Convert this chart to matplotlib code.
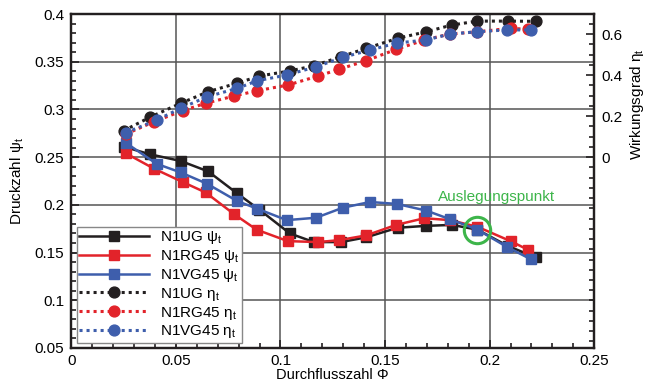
import numpy as np
import matplotlib
matplotlib.use('Agg')
import matplotlib.pyplot as plt
from matplotlib.ticker import MultipleLocator, FixedLocator

plt.rcParams['font.family'] = ['Liberation Sans', 'DejaVu Sans']
plt.rcParams['mathtext.default'] = 'regular'

# Durchflusszahl per series
phi_ug = [0.025, 0.0376, 0.0523, 0.0655, 0.0793, 0.0899, 0.1045, 0.116, 0.129, 0.141, 0.156, 0.1697, 0.182, 0.1942, 0.2086, 0.222]
phi_rg = [0.0261, 0.0395, 0.0532, 0.0642, 0.0780, 0.0886, 0.1035, 0.118, 0.128, 0.141, 0.1553, 0.1688, 0.181, 0.1942, 0.2100, 0.2183]
phi_vg = [0.0261, 0.0408, 0.0523, 0.065, 0.0793, 0.0889, 0.103, 0.117, 0.1298, 0.1428, 0.1556, 0.1697, 0.181, 0.1942, 0.2082, 0.2197]

# Druckzahl psi_t
psi_ug = [0.261, 0.253, 0.246, 0.235, 0.212, 0.195, 0.170, 0.161, 0.161, 0.166, 0.176, 0.178, 0.179, 0.174, 0.157, 0.145]
psi_rg = [0.254, 0.238, 0.224, 0.213, 0.190, 0.174, 0.162, 0.161, 0.163, 0.168, 0.179, 0.186, 0.184, 0.177, 0.162, 0.153]
psi_vg = [0.265, 0.243, 0.234, 0.222, 0.204, 0.196, 0.184, 0.1865, 0.197, 0.203, 0.201, 0.194, 0.185, 0.174, 0.156, 0.143]

# Wirkungsgrad eta_t
eta_ug = [0.128, 0.194, 0.262, 0.319, 0.360, 0.395, 0.420, 0.445, 0.490, 0.530, 0.579, 0.611, 0.644, 0.663, 0.663, 0.662]
eta_rg = [0.112, 0.172, 0.226, 0.262, 0.298, 0.323, 0.351, 0.395, 0.428, 0.470, 0.525, 0.571, 0.600, 0.611, 0.628, 0.623]
eta_vg = [0.119, 0.180, 0.238, 0.294, 0.335, 0.372, 0.400, 0.440, 0.486, 0.522, 0.556, 0.571, 0.600, 0.611, 0.620, 0.620]

design_point = (0.1942, 0.174)

black = '#231f20'
red = '#e2232a'
blue = '#3e5eac'
green = '#3db54a'

fig = plt.figure(figsize=(6.48, 3.83), dpi=100)
ax = fig.add_axes([0.110, 0.0914, 0.807, 0.872])
ax2 = ax.twinx()

sq = dict(marker='s', markersize=6.8, lw=1.8)
ci = dict(marker='o', markersize=7.8, lw=2.2, linestyle=(0, (1, 1.3)))

h1, = ax.plot(phi_ug, psi_ug, color=black, label='N1UG ψ$_t$', zorder=3, **sq)
h2, = ax.plot(phi_rg, psi_rg, color=red, label='N1RG45 ψ$_t$', zorder=4, **sq)
h3, = ax.plot(phi_vg, psi_vg, color=blue, label='N1VG45 ψ$_t$', zorder=5, **sq)
h4, = ax2.plot(phi_ug, eta_ug, color=black, label='N1UG η$_t$', zorder=3, **ci)
h5, = ax2.plot(phi_rg, eta_rg, color=red, label='N1RG45 η$_t$', zorder=4, **ci)
h6, = ax2.plot(phi_vg, eta_vg, color=blue, label='N1VG45 η$_t$', zorder=5, **ci)

ax.plot([design_point[0]], [design_point[1]], marker='o', markersize=19, mfc='none',
        mec=green, mew=2.2, zorder=6)
ax.text(0.1755, 0.208, 'Auslegungspunkt', color=green, fontsize=11, va='center', ha='left')

ax.set_xlim(0, 0.25)
ax.set_ylim(0.05, 0.4)
ax2.set_ylim(-0.9317, 0.6976)

ax.xaxis.set_minor_locator(MultipleLocator(0.01))
ax.yaxis.set_minor_locator(MultipleLocator(0.01))
ax.set_xticks([0, 0.05, 0.1, 0.15, 0.2, 0.25], ['0', '0.05', '0.1', '0.15', '0.2', '0.25'])
ax.set_yticks([0.05, 0.1, 0.15, 0.2, 0.25, 0.3, 0.35, 0.4],
              ['0.05', '0.1', '0.15', '0.2', '0.25', '0.3', '0.35', '0.4'])
ax2.set_yticks([0, 0.2, 0.4, 0.6], ['0', '0.2', '0.4', '0.6'])
ax2.yaxis.set_minor_locator(FixedLocator(np.arange(-0.9, 0.7, 0.05)))

ax.tick_params(which='both', direction='in', labelsize=11, width=1.2, color=black)
ax.tick_params(which='major', length=6)
ax.tick_params(which='minor', length=3.5)
ax.tick_params(axis='x', pad=4)
ax.tick_params(axis='y', pad=5)
ax2.tick_params(which='both', direction='in', labelsize=11, width=1.2, color=black, pad=5)
ax2.tick_params(which='major', length=6)
ax2.tick_params(which='minor', length=3.5)

ax.grid(True, which='major', color='#555555', lw=1.1)
ax.set_axisbelow(True)

for a in (ax, ax2):
    for s in a.spines.values():
        s.set_linewidth(1.6)
        s.set_color(black)

ax.set_xlabel('Durchflusszahl Φ', fontsize=10.5, labelpad=0)
ax.set_ylabel('Druckzahl ψ$_t$', fontsize=11)
ax.yaxis.set_label_coords(-0.086, 0.5)
ax2.set_ylabel('Wirkungsgrad η$_t$', fontsize=11)
ax2.yaxis.set_label_coords(1.064, 0.73)

leg = ax2.legend(handles=[h1, h2, h3, h4, h5, h6], loc='lower left', fontsize=11,
                 numpoints=1, handlelength=4.6, handletextpad=0.7, labelspacing=0.12,
                 borderpad=0.15, borderaxespad=0.35, fancybox=False, framealpha=1)
leg.get_frame().set_edgecolor('#888888')
leg.get_frame().set_linewidth(1.0)
leg.set_zorder(10)

fig.savefig('out.png', dpi=100)
